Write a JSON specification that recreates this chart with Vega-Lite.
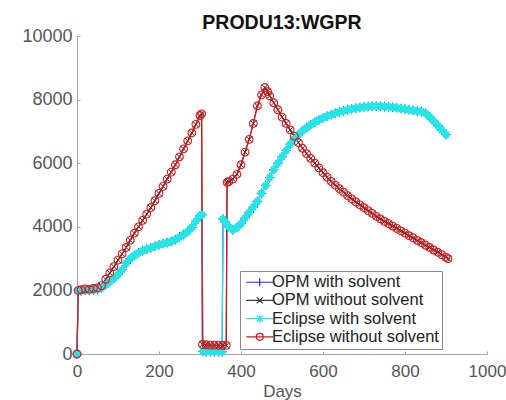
{
"$schema": "https://vega.github.io/schema/vega-lite/v6.json",
"width": 410, "height": 318,
"autosize": {"type": "none"},
"padding": {"left": 77, "top": 36, "right": 19, "bottom": 46},
"title": {"text": "PRODU13:WGPR", "fontSize": 19.5, "fontWeight": "bold", "font": "Liberation Sans", "color": "#111111", "anchor": "middle", "offset": -6},
"config": {
  "view": {"stroke": null},
  "axis": {"domainColor": "#a6a6a6", "tickColor": "#a6a6a6", "grid": false, "labelColor": "#555555", "labelFont": "Liberation Sans", "labelFontSize": 18, "tickSize": -3, "labelFlush": false, "labelOverlap": false, "titleFont": "Liberation Sans", "titleFontSize": 17, "titleColor": "#555555", "titleFontWeight": "normal"}
},
"data": {"values": [
{"series":"OPM with solvent","day":0,"rate":0},{"series":"OPM with solvent","day":3,"rate":2000},{"series":"OPM with solvent","day":10,"rate":1980},{"series":"OPM with solvent","day":20,"rate":2000},{"series":"OPM with solvent","day":30,"rate":2000},{"series":"OPM with solvent","day":40,"rate":2010},{"series":"OPM with solvent","day":50,"rate":2030},{"series":"OPM with solvent","day":60,"rate":2080},{"series":"OPM with solvent","day":70,"rate":2180},{"series":"OPM with solvent","day":80,"rate":2280},{"series":"OPM with solvent","day":90,"rate":2380},{"series":"OPM with solvent","day":100,"rate":2500},{"series":"OPM with solvent","day":110,"rate":2650},{"series":"OPM with solvent","day":120,"rate":2850},{"series":"OPM with solvent","day":130,"rate":3000},{"series":"OPM with solvent","day":140,"rate":3100},{"series":"OPM with solvent","day":150,"rate":3180},{"series":"OPM with solvent","day":160,"rate":3250},{"series":"OPM with solvent","day":170,"rate":3300},{"series":"OPM with solvent","day":180,"rate":3340},{"series":"OPM with solvent","day":190,"rate":3390},{"series":"OPM with solvent","day":200,"rate":3430},{"series":"OPM with solvent","day":210,"rate":3470},{"series":"OPM with solvent","day":220,"rate":3500},{"series":"OPM with solvent","day":230,"rate":3540},{"series":"OPM with solvent","day":240,"rate":3600},{"series":"OPM with solvent","day":250,"rate":3680},{"series":"OPM with solvent","day":260,"rate":3760},{"series":"OPM with solvent","day":270,"rate":3850},{"series":"OPM with solvent","day":280,"rate":3980},{"series":"OPM with solvent","day":290,"rate":4180},{"series":"OPM with solvent","day":300,"rate":4350},{"series":"OPM with solvent","day":305,"rate":4380},{"series":"OPM with solvent","day":307,"rate":80},{"series":"OPM with solvent","day":315,"rate":70},{"series":"OPM with solvent","day":325,"rate":70},{"series":"OPM with solvent","day":335,"rate":70},{"series":"OPM with solvent","day":345,"rate":70},{"series":"OPM with solvent","day":354,"rate":70},{"series":"OPM with solvent","day":356,"rate":4250},{"series":"OPM with solvent","day":362,"rate":4150},{"series":"OPM with solvent","day":370,"rate":4000},{"series":"OPM with solvent","day":380,"rate":3900},{"series":"OPM with solvent","day":390,"rate":3980},{"series":"OPM with solvent","day":400,"rate":4100},{"series":"OPM with solvent","day":410,"rate":4280},{"series":"OPM with solvent","day":420,"rate":4450},{"series":"OPM with solvent","day":430,"rate":4620},{"series":"OPM with solvent","day":440,"rate":4800},{"series":"OPM with solvent","day":450,"rate":5050},{"series":"OPM with solvent","day":460,"rate":5300},{"series":"OPM with solvent","day":470,"rate":5550},{"series":"OPM with solvent","day":480,"rate":5800},{"series":"OPM with solvent","day":490,"rate":6000},{"series":"OPM with solvent","day":500,"rate":6200},{"series":"OPM with solvent","day":510,"rate":6400},{"series":"OPM with solvent","day":520,"rate":6600},{"series":"OPM with solvent","day":530,"rate":6760},{"series":"OPM with solvent","day":540,"rate":6900},{"series":"OPM with solvent","day":550,"rate":7020},{"series":"OPM with solvent","day":560,"rate":7120},{"series":"OPM with solvent","day":570,"rate":7210},{"series":"OPM with solvent","day":580,"rate":7290},{"series":"OPM with solvent","day":590,"rate":7360},{"series":"OPM with solvent","day":600,"rate":7420},{"series":"OPM with solvent","day":610,"rate":7480},{"series":"OPM with solvent","day":620,"rate":7520},{"series":"OPM with solvent","day":630,"rate":7570},{"series":"OPM with solvent","day":640,"rate":7610},{"series":"OPM with solvent","day":650,"rate":7650},{"series":"OPM with solvent","day":660,"rate":7680},{"series":"OPM with solvent","day":670,"rate":7710},{"series":"OPM with solvent","day":680,"rate":7730},{"series":"OPM with solvent","day":690,"rate":7750},{"series":"OPM with solvent","day":700,"rate":7770},{"series":"OPM with solvent","day":710,"rate":7780},{"series":"OPM with solvent","day":720,"rate":7790},{"series":"OPM with solvent","day":730,"rate":7790},{"series":"OPM with solvent","day":740,"rate":7790},{"series":"OPM with solvent","day":750,"rate":7780},{"series":"OPM with solvent","day":760,"rate":7770},{"series":"OPM with solvent","day":770,"rate":7760},{"series":"OPM with solvent","day":780,"rate":7740},{"series":"OPM with solvent","day":790,"rate":7720},{"series":"OPM with solvent","day":800,"rate":7700},{"series":"OPM with solvent","day":810,"rate":7680},{"series":"OPM with solvent","day":820,"rate":7660},{"series":"OPM with solvent","day":830,"rate":7640},{"series":"OPM with solvent","day":840,"rate":7620},{"series":"OPM with solvent","day":850,"rate":7570},{"series":"OPM with solvent","day":860,"rate":7450},{"series":"OPM with solvent","day":870,"rate":7320},{"series":"OPM with solvent","day":880,"rate":7180},{"series":"OPM with solvent","day":890,"rate":7040},{"series":"OPM with solvent","day":900,"rate":6900},
{"series":"OPM without solvent","day":0,"rate":0},{"series":"OPM without solvent","day":3,"rate":2000},{"series":"OPM without solvent","day":10,"rate":2020},{"series":"OPM without solvent","day":20,"rate":2050},{"series":"OPM without solvent","day":30,"rate":2040},{"series":"OPM without solvent","day":40,"rate":2060},{"series":"OPM without solvent","day":50,"rate":2080},{"series":"OPM without solvent","day":60,"rate":2150},{"series":"OPM without solvent","day":70,"rate":2350},{"series":"OPM without solvent","day":80,"rate":2550},{"series":"OPM without solvent","day":90,"rate":2750},{"series":"OPM without solvent","day":100,"rate":2950},{"series":"OPM without solvent","day":110,"rate":3150},{"series":"OPM without solvent","day":120,"rate":3350},{"series":"OPM without solvent","day":130,"rate":3580},{"series":"OPM without solvent","day":140,"rate":3800},{"series":"OPM without solvent","day":150,"rate":4000},{"series":"OPM without solvent","day":160,"rate":4200},{"series":"OPM without solvent","day":170,"rate":4400},{"series":"OPM without solvent","day":180,"rate":4600},{"series":"OPM without solvent","day":190,"rate":4820},{"series":"OPM without solvent","day":200,"rate":5050},{"series":"OPM without solvent","day":210,"rate":5270},{"series":"OPM without solvent","day":220,"rate":5500},{"series":"OPM without solvent","day":230,"rate":5720},{"series":"OPM without solvent","day":240,"rate":5950},{"series":"OPM without solvent","day":250,"rate":6200},{"series":"OPM without solvent","day":260,"rate":6450},{"series":"OPM without solvent","day":270,"rate":6700},{"series":"OPM without solvent","day":280,"rate":6950},{"series":"OPM without solvent","day":290,"rate":7220},{"series":"OPM without solvent","day":300,"rate":7500},{"series":"OPM without solvent","day":304,"rate":7550},{"series":"OPM without solvent","day":306,"rate":300},{"series":"OPM without solvent","day":315,"rate":290},{"series":"OPM without solvent","day":325,"rate":280},{"series":"OPM without solvent","day":335,"rate":280},{"series":"OPM without solvent","day":345,"rate":270},{"series":"OPM without solvent","day":355,"rate":270},{"series":"OPM without solvent","day":364,"rate":270},{"series":"OPM without solvent","day":366,"rate":5400},{"series":"OPM without solvent","day":370,"rate":5420},{"series":"OPM without solvent","day":380,"rate":5500},{"series":"OPM without solvent","day":390,"rate":5650},{"series":"OPM without solvent","day":400,"rate":5950},{"series":"OPM without solvent","day":410,"rate":6350},{"series":"OPM without solvent","day":420,"rate":6750},{"series":"OPM without solvent","day":430,"rate":7250},{"series":"OPM without solvent","day":440,"rate":7800},{"series":"OPM without solvent","day":450,"rate":8150},{"series":"OPM without solvent","day":458,"rate":8380},{"series":"OPM without solvent","day":465,"rate":8250},{"series":"OPM without solvent","day":470,"rate":8120},{"series":"OPM without solvent","day":480,"rate":7900},{"series":"OPM without solvent","day":490,"rate":7680},{"series":"OPM without solvent","day":500,"rate":7450},{"series":"OPM without solvent","day":510,"rate":7250},{"series":"OPM without solvent","day":520,"rate":7050},{"series":"OPM without solvent","day":530,"rate":6850},{"series":"OPM without solvent","day":540,"rate":6650},{"series":"OPM without solvent","day":550,"rate":6470},{"series":"OPM without solvent","day":560,"rate":6300},{"series":"OPM without solvent","day":570,"rate":6150},{"series":"OPM without solvent","day":580,"rate":6000},{"series":"OPM without solvent","day":590,"rate":5850},{"series":"OPM without solvent","day":600,"rate":5700},{"series":"OPM without solvent","day":610,"rate":5560},{"series":"OPM without solvent","day":620,"rate":5430},{"series":"OPM without solvent","day":630,"rate":5310},{"series":"OPM without solvent","day":640,"rate":5200},{"series":"OPM without solvent","day":650,"rate":5090},{"series":"OPM without solvent","day":660,"rate":4980},{"series":"OPM without solvent","day":670,"rate":4880},{"series":"OPM without solvent","day":680,"rate":4780},{"series":"OPM without solvent","day":690,"rate":4690},{"series":"OPM without solvent","day":700,"rate":4600},{"series":"OPM without solvent","day":710,"rate":4510},{"series":"OPM without solvent","day":720,"rate":4420},{"series":"OPM without solvent","day":730,"rate":4330},{"series":"OPM without solvent","day":740,"rate":4250},{"series":"OPM without solvent","day":750,"rate":4170},{"series":"OPM without solvent","day":760,"rate":4100},{"series":"OPM without solvent","day":770,"rate":4020},{"series":"OPM without solvent","day":780,"rate":3950},{"series":"OPM without solvent","day":790,"rate":3870},{"series":"OPM without solvent","day":800,"rate":3800},{"series":"OPM without solvent","day":810,"rate":3720},{"series":"OPM without solvent","day":820,"rate":3650},{"series":"OPM without solvent","day":830,"rate":3570},{"series":"OPM without solvent","day":840,"rate":3500},{"series":"OPM without solvent","day":850,"rate":3420},{"series":"OPM without solvent","day":860,"rate":3350},{"series":"OPM without solvent","day":870,"rate":3270},{"series":"OPM without solvent","day":880,"rate":3200},{"series":"OPM without solvent","day":890,"rate":3120},{"series":"OPM without solvent","day":900,"rate":3040},{"series":"OPM without solvent","day":905,"rate":3000},
{"series":"Eclipse with solvent","day":0,"rate":0},{"series":"Eclipse with solvent","day":3,"rate":2000},{"series":"Eclipse with solvent","day":10,"rate":1980},{"series":"Eclipse with solvent","day":20,"rate":2000},{"series":"Eclipse with solvent","day":30,"rate":2000},{"series":"Eclipse with solvent","day":40,"rate":2010},{"series":"Eclipse with solvent","day":50,"rate":2030},{"series":"Eclipse with solvent","day":60,"rate":2080},{"series":"Eclipse with solvent","day":70,"rate":2180},{"series":"Eclipse with solvent","day":80,"rate":2280},{"series":"Eclipse with solvent","day":90,"rate":2380},{"series":"Eclipse with solvent","day":100,"rate":2500},{"series":"Eclipse with solvent","day":110,"rate":2650},{"series":"Eclipse with solvent","day":120,"rate":2850},{"series":"Eclipse with solvent","day":130,"rate":3000},{"series":"Eclipse with solvent","day":140,"rate":3100},{"series":"Eclipse with solvent","day":150,"rate":3180},{"series":"Eclipse with solvent","day":160,"rate":3250},{"series":"Eclipse with solvent","day":170,"rate":3300},{"series":"Eclipse with solvent","day":180,"rate":3340},{"series":"Eclipse with solvent","day":190,"rate":3390},{"series":"Eclipse with solvent","day":200,"rate":3430},{"series":"Eclipse with solvent","day":210,"rate":3470},{"series":"Eclipse with solvent","day":220,"rate":3500},{"series":"Eclipse with solvent","day":230,"rate":3540},{"series":"Eclipse with solvent","day":240,"rate":3600},{"series":"Eclipse with solvent","day":250,"rate":3680},{"series":"Eclipse with solvent","day":260,"rate":3760},{"series":"Eclipse with solvent","day":270,"rate":3850},{"series":"Eclipse with solvent","day":280,"rate":3980},{"series":"Eclipse with solvent","day":290,"rate":4180},{"series":"Eclipse with solvent","day":300,"rate":4350},{"series":"Eclipse with solvent","day":305,"rate":4380},{"series":"Eclipse with solvent","day":307,"rate":80},{"series":"Eclipse with solvent","day":315,"rate":70},{"series":"Eclipse with solvent","day":325,"rate":70},{"series":"Eclipse with solvent","day":335,"rate":70},{"series":"Eclipse with solvent","day":345,"rate":70},{"series":"Eclipse with solvent","day":354,"rate":70},{"series":"Eclipse with solvent","day":356,"rate":4250},{"series":"Eclipse with solvent","day":362,"rate":4150},{"series":"Eclipse with solvent","day":370,"rate":4000},{"series":"Eclipse with solvent","day":380,"rate":3900},{"series":"Eclipse with solvent","day":390,"rate":3980},{"series":"Eclipse with solvent","day":400,"rate":4100},{"series":"Eclipse with solvent","day":410,"rate":4280},{"series":"Eclipse with solvent","day":420,"rate":4450},{"series":"Eclipse with solvent","day":430,"rate":4620},{"series":"Eclipse with solvent","day":440,"rate":4800},{"series":"Eclipse with solvent","day":450,"rate":5050},{"series":"Eclipse with solvent","day":460,"rate":5300},{"series":"Eclipse with solvent","day":470,"rate":5550},{"series":"Eclipse with solvent","day":480,"rate":5800},{"series":"Eclipse with solvent","day":490,"rate":6000},{"series":"Eclipse with solvent","day":500,"rate":6200},{"series":"Eclipse with solvent","day":510,"rate":6400},{"series":"Eclipse with solvent","day":520,"rate":6600},{"series":"Eclipse with solvent","day":530,"rate":6760},{"series":"Eclipse with solvent","day":540,"rate":6900},{"series":"Eclipse with solvent","day":550,"rate":7020},{"series":"Eclipse with solvent","day":560,"rate":7120},{"series":"Eclipse with solvent","day":570,"rate":7210},{"series":"Eclipse with solvent","day":580,"rate":7290},{"series":"Eclipse with solvent","day":590,"rate":7360},{"series":"Eclipse with solvent","day":600,"rate":7420},{"series":"Eclipse with solvent","day":610,"rate":7480},{"series":"Eclipse with solvent","day":620,"rate":7520},{"series":"Eclipse with solvent","day":630,"rate":7570},{"series":"Eclipse with solvent","day":640,"rate":7610},{"series":"Eclipse with solvent","day":650,"rate":7650},{"series":"Eclipse with solvent","day":660,"rate":7680},{"series":"Eclipse with solvent","day":670,"rate":7710},{"series":"Eclipse with solvent","day":680,"rate":7730},{"series":"Eclipse with solvent","day":690,"rate":7750},{"series":"Eclipse with solvent","day":700,"rate":7770},{"series":"Eclipse with solvent","day":710,"rate":7780},{"series":"Eclipse with solvent","day":720,"rate":7790},{"series":"Eclipse with solvent","day":730,"rate":7790},{"series":"Eclipse with solvent","day":740,"rate":7790},{"series":"Eclipse with solvent","day":750,"rate":7780},{"series":"Eclipse with solvent","day":760,"rate":7770},{"series":"Eclipse with solvent","day":770,"rate":7760},{"series":"Eclipse with solvent","day":780,"rate":7740},{"series":"Eclipse with solvent","day":790,"rate":7720},{"series":"Eclipse with solvent","day":800,"rate":7700},{"series":"Eclipse with solvent","day":810,"rate":7680},{"series":"Eclipse with solvent","day":820,"rate":7660},{"series":"Eclipse with solvent","day":830,"rate":7640},{"series":"Eclipse with solvent","day":840,"rate":7620},{"series":"Eclipse with solvent","day":850,"rate":7570},{"series":"Eclipse with solvent","day":860,"rate":7450},{"series":"Eclipse with solvent","day":870,"rate":7320},{"series":"Eclipse with solvent","day":880,"rate":7180},{"series":"Eclipse with solvent","day":890,"rate":7040},{"series":"Eclipse with solvent","day":900,"rate":6900},
{"series":"Eclipse without solvent","day":0,"rate":0},{"series":"Eclipse without solvent","day":3,"rate":2000},{"series":"Eclipse without solvent","day":10,"rate":2020},{"series":"Eclipse without solvent","day":20,"rate":2050},{"series":"Eclipse without solvent","day":30,"rate":2040},{"series":"Eclipse without solvent","day":40,"rate":2060},{"series":"Eclipse without solvent","day":50,"rate":2080},{"series":"Eclipse without solvent","day":60,"rate":2150},{"series":"Eclipse without solvent","day":70,"rate":2350},{"series":"Eclipse without solvent","day":80,"rate":2550},{"series":"Eclipse without solvent","day":90,"rate":2750},{"series":"Eclipse without solvent","day":100,"rate":2950},{"series":"Eclipse without solvent","day":110,"rate":3150},{"series":"Eclipse without solvent","day":120,"rate":3350},{"series":"Eclipse without solvent","day":130,"rate":3580},{"series":"Eclipse without solvent","day":140,"rate":3800},{"series":"Eclipse without solvent","day":150,"rate":4000},{"series":"Eclipse without solvent","day":160,"rate":4200},{"series":"Eclipse without solvent","day":170,"rate":4400},{"series":"Eclipse without solvent","day":180,"rate":4600},{"series":"Eclipse without solvent","day":190,"rate":4820},{"series":"Eclipse without solvent","day":200,"rate":5050},{"series":"Eclipse without solvent","day":210,"rate":5270},{"series":"Eclipse without solvent","day":220,"rate":5500},{"series":"Eclipse without solvent","day":230,"rate":5720},{"series":"Eclipse without solvent","day":240,"rate":5950},{"series":"Eclipse without solvent","day":250,"rate":6200},{"series":"Eclipse without solvent","day":260,"rate":6450},{"series":"Eclipse without solvent","day":270,"rate":6700},{"series":"Eclipse without solvent","day":280,"rate":6950},{"series":"Eclipse without solvent","day":290,"rate":7220},{"series":"Eclipse without solvent","day":300,"rate":7500},{"series":"Eclipse without solvent","day":304,"rate":7550},{"series":"Eclipse without solvent","day":306,"rate":300},{"series":"Eclipse without solvent","day":315,"rate":290},{"series":"Eclipse without solvent","day":325,"rate":280},{"series":"Eclipse without solvent","day":335,"rate":280},{"series":"Eclipse without solvent","day":345,"rate":270},{"series":"Eclipse without solvent","day":355,"rate":270},{"series":"Eclipse without solvent","day":364,"rate":270},{"series":"Eclipse without solvent","day":366,"rate":5400},{"series":"Eclipse without solvent","day":370,"rate":5420},{"series":"Eclipse without solvent","day":380,"rate":5500},{"series":"Eclipse without solvent","day":390,"rate":5650},{"series":"Eclipse without solvent","day":400,"rate":5950},{"series":"Eclipse without solvent","day":410,"rate":6350},{"series":"Eclipse without solvent","day":420,"rate":6750},{"series":"Eclipse without solvent","day":430,"rate":7250},{"series":"Eclipse without solvent","day":440,"rate":7800},{"series":"Eclipse without solvent","day":450,"rate":8150},{"series":"Eclipse without solvent","day":458,"rate":8380},{"series":"Eclipse without solvent","day":465,"rate":8250},{"series":"Eclipse without solvent","day":470,"rate":8120},{"series":"Eclipse without solvent","day":480,"rate":7900},{"series":"Eclipse without solvent","day":490,"rate":7680},{"series":"Eclipse without solvent","day":500,"rate":7450},{"series":"Eclipse without solvent","day":510,"rate":7250},{"series":"Eclipse without solvent","day":520,"rate":7050},{"series":"Eclipse without solvent","day":530,"rate":6850},{"series":"Eclipse without solvent","day":540,"rate":6650},{"series":"Eclipse without solvent","day":550,"rate":6470},{"series":"Eclipse without solvent","day":560,"rate":6300},{"series":"Eclipse without solvent","day":570,"rate":6150},{"series":"Eclipse without solvent","day":580,"rate":6000},{"series":"Eclipse without solvent","day":590,"rate":5850},{"series":"Eclipse without solvent","day":600,"rate":5700},{"series":"Eclipse without solvent","day":610,"rate":5560},{"series":"Eclipse without solvent","day":620,"rate":5430},{"series":"Eclipse without solvent","day":630,"rate":5310},{"series":"Eclipse without solvent","day":640,"rate":5200},{"series":"Eclipse without solvent","day":650,"rate":5090},{"series":"Eclipse without solvent","day":660,"rate":4980},{"series":"Eclipse without solvent","day":670,"rate":4880},{"series":"Eclipse without solvent","day":680,"rate":4780},{"series":"Eclipse without solvent","day":690,"rate":4690},{"series":"Eclipse without solvent","day":700,"rate":4600},{"series":"Eclipse without solvent","day":710,"rate":4510},{"series":"Eclipse without solvent","day":720,"rate":4420},{"series":"Eclipse without solvent","day":730,"rate":4330},{"series":"Eclipse without solvent","day":740,"rate":4250},{"series":"Eclipse without solvent","day":750,"rate":4170},{"series":"Eclipse without solvent","day":760,"rate":4100},{"series":"Eclipse without solvent","day":770,"rate":4020},{"series":"Eclipse without solvent","day":780,"rate":3950},{"series":"Eclipse without solvent","day":790,"rate":3870},{"series":"Eclipse without solvent","day":800,"rate":3800},{"series":"Eclipse without solvent","day":810,"rate":3720},{"series":"Eclipse without solvent","day":820,"rate":3650},{"series":"Eclipse without solvent","day":830,"rate":3570},{"series":"Eclipse without solvent","day":840,"rate":3500},{"series":"Eclipse without solvent","day":850,"rate":3420},{"series":"Eclipse without solvent","day":860,"rate":3350},{"series":"Eclipse without solvent","day":870,"rate":3270},{"series":"Eclipse without solvent","day":880,"rate":3200},{"series":"Eclipse without solvent","day":890,"rate":3120},{"series":"Eclipse without solvent","day":900,"rate":3040},{"series":"Eclipse without solvent","day":905,"rate":3000}
]},
"encoding": {
  "x": {"field": "day", "type": "quantitative", "scale": {"domain": [0, 1000], "nice": false, "zero": false}, "axis": {"title": "Days", "values": [0, 200, 400, 600, 800, 1000], "labelFontSize": 17, "labelPadding": 12, "titlePadding": 4, "format": "d"}},
  "y": {"field": "rate", "type": "quantitative", "scale": {"domain": [0, 10000], "nice": false}, "axis": {"title": null, "values": [0, 2000, 4000, 6000, 8000, 10000], "labelPadding": 8, "format": "d"}},
  "color": {"field": "series", "type": "nominal",
    "scale": {"domain": ["OPM with solvent", "OPM without solvent", "Eclipse with solvent", "Eclipse without solvent"], "range": ["#2222ee", "#3a3a3a", "#22e6e6", "#dc1616"]},
    "legend": {"orient": "none", "legendX": 163, "legendY": 235, "title": null, "padding": 3, "strokeColor": "#8a8a8a", "fillColor": "#ffffff", "labelFont": "Liberation Sans", "labelFontSize": 16.5, "labelColor": "#222222", "labelLimit": 400, "symbolSize": 100, "symbolOffset": 8.5, "labelOffset": 4, "rowPadding": 1.2, "symbolStrokeWidth": 1.2, "symbolFillColor": "transparent",
      "encode": {"symbols": {"update": {"shape": {"signal": "datum.value == 'OPM with solvent' ? 'M-2.7,0H2.7M0,-0.8V0.8' : datum.value == 'OPM without solvent' ? 'M-2.7,0H2.7M-0.6,-0.6L0.6,0.6M-0.6,0.6L0.6,-0.6' : datum.value == 'Eclipse with solvent' ? 'M-2.7,0H2.7M0,-0.8V0.8M-0.6,-0.6L0.6,0.6M-0.6,0.6L0.6,-0.6' : 'M-2.7,0H2.7M0.7,0A0.7,0.7,0,1,1,-0.7,0A0.7,0.7,0,1,1,0.7,0'"}, "fill": {"value": "transparent"}}}}
    }
  }
},
"layer": [
  {"mark": {"type": "line", "strokeWidth": 1.2}},
  {"transform": [{"filter": "datum.series == 'OPM with solvent'"}],
   "mark": {"type": "point", "filled": false, "opacity": 1, "shape": "M-1,0H1M0,-1V1", "size": 90, "strokeWidth": 1}},
  {"transform": [{"filter": "datum.series == 'OPM without solvent'"}],
   "mark": {"type": "point", "filled": false, "opacity": 1, "shape": "M-0.8,-0.8L0.8,0.8M-0.8,0.8L0.8,-0.8", "size": 56, "strokeWidth": 1}},
  {"transform": [{"filter": "datum.series == 'Eclipse with solvent'"}],
   "mark": {"type": "point", "filled": false, "opacity": 1, "shape": "M-1,0H1M0,-1V1M-0.7,-0.7L0.7,0.7M-0.7,0.7L0.7,-0.7", "size": 64, "strokeWidth": 2.2}},
  {"transform": [{"filter": "datum.series == 'Eclipse without solvent'"}],
   "mark": {"type": "point", "filled": false, "opacity": 1, "shape": "M1,0A1,1,0,1,1,-1,0A1,1,0,1,1,1,0", "size": 60, "strokeWidth": 1.1}}
]
}
